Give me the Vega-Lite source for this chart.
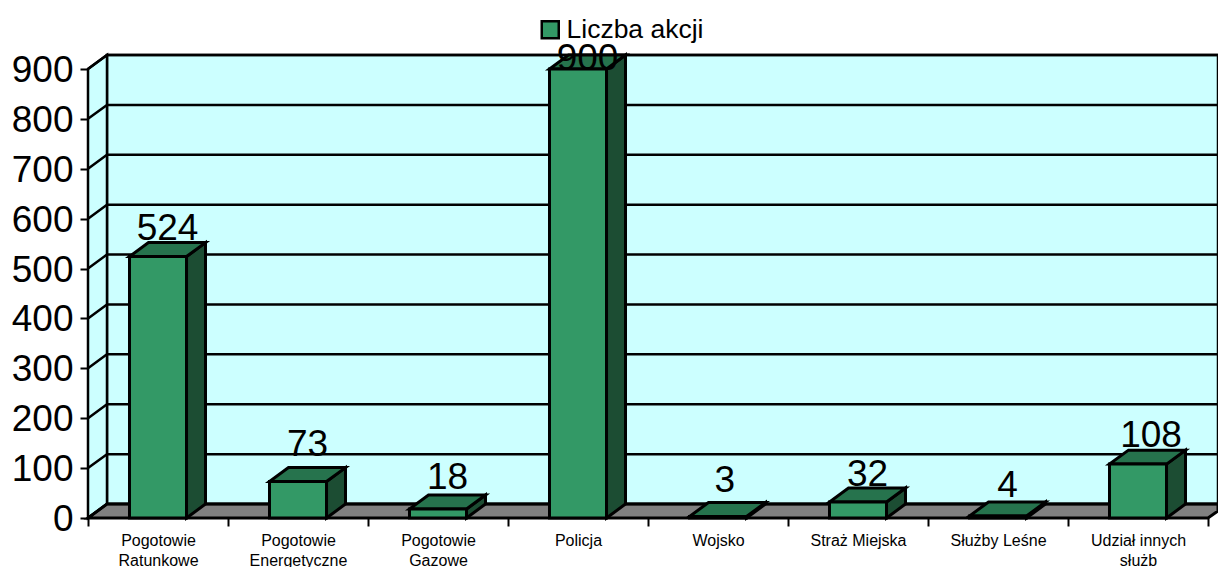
{
"$schema":"https://vega.github.io/schema/vega-lite/v6.json",
"width":1130,"height":463,
"autosize":{"type":"none"},
"padding":{"left":88,"top":55,"right":0,"bottom":49},
"background":"white",
"config":{"view":{"stroke":null},"font":"Liberation Sans"},
"datasets":{
"bary":[
{"nr":1,"kategoria":"Pogotowie Ratunkowe","seria":"Liczba akcji","wartosc":524},
{"nr":2,"kategoria":"Pogotowie Energetyczne","seria":"Liczba akcji","wartosc":73},
{"nr":3,"kategoria":"Pogotowie Gazowe","seria":"Liczba akcji","wartosc":18},
{"nr":4,"kategoria":"Policja","seria":"Liczba akcji","wartosc":900},
{"nr":5,"kategoria":"Wojsko","seria":"Liczba akcji","wartosc":3},
{"nr":6,"kategoria":"Straż Miejska","seria":"Liczba akcji","wartosc":32},
{"nr":7,"kategoria":"Służby Leśne","seria":"Liczba akcji","wartosc":4},
{"nr":8,"kategoria":"Udział innych służb","seria":"Liczba akcji","wartosc":108}
],
"podzialka":[{"v":0},{"v":100},{"v":200},{"v":300},{"v":400},{"v":500},{"v":600},{"v":700},{"v":800},{"v":900}],
"sciana":[{"x":0.1357,"x2":8.0714,"y":28,"y2":928}],
"bok":[{"x":0,"y":0,"y2":0},{"x":0,"y":0,"y2":900},{"x":0.1357,"y":28,"y2":928}],
"podloga":[{"x":0,"y":0,"y2":0},{"x":0.1357,"y":0,"y2":28},{"x":8,"y":0,"y2":28},{"x":8.0714,"y":14,"y2":28}]
},
"encoding":{
"x":{"field":"x","type":"quantitative",
"scale":{"domain":[0,8.0714],"nice":false,"zero":false},
"axis":{"title":null,"grid":false,"domain":false,
"values":[0,0.5,1,1.5,2,2.5,3,3.5,4,4.5,5,5.5,6,6.5,7,7.5,8],
"tickSize":8,"tickWidth":2,"tickColor":"black",
"tickOpacity":{"condition":{"test":"datum.value % 1 == 0","value":1},"value":0},
"labelExpr":"datum.value % 1 == 0 ? '' : split(['Pogotowie|Ratunkowe','Pogotowie|Energetyczne','Pogotowie|Gazowe','Policja','Wojsko','Straż Miejska','Służby Leśne','Udział innych|służb'][floor(datum.value)],'|')",
"labelFontSize":16,"labelColor":"black","labelFont":"Liberation Sans","labelPadding":6,"labelLineHeight":20.5,
"labelOverlap":false,"labelBound":false,"labelFlush":false,"labelAngle":0,"labelBaseline":"top"}},
"y":{"field":"y","type":"quantitative","stack":null,
"scale":{"domain":[0,928],"nice":false,"zero":false},
"axis":{"title":null,"grid":false,"domain":false,
"values":[0,100,200,300,400,500,600,700,800,900],
"tickSize":8,"tickWidth":2,"tickColor":"black",
"labelFontSize":37,"labelColor":"black","labelFont":"Liberation Sans","labelPadding":7,"labelOffset":1.5,
"labelOverlap":false,"labelBound":false,"labelFlush":false}}
},
"layer":[
{"data":{"name":"sciana"},"mark":{"type":"rect","fill":"#CCFFFF","stroke":"black","strokeWidth":2.5,"clip":false},
"encoding":{"x2":{"field":"x2"},"y2":{"field":"y2"}}},
{"data":{"name":"bok"},"mark":{"type":"area","orient":"vertical","fill":"#CCFFFF","stroke":"black","strokeWidth":2.5},
"encoding":{"y2":{"field":"y2"}}},
{"data":{"name":"podloga"},"mark":{"type":"area","orient":"vertical","fill":"#808080","stroke":"black","strokeWidth":3},
"encoding":{"y2":{"field":"y2"}}},
{"data":{"name":"podzialka"},
"transform":[
{"calculate":"[0,0.1357,8.0714]","as":"x"},
{"calculate":"[datum.v,datum.v+28,datum.v+28]","as":"y"},
{"flatten":["x","y"]}],
"mark":{"type":"line","stroke":"black","strokeWidth":2.5},
"encoding":{"detail":{"field":"v","type":"nominal"}}},
{"data":{"name":"bary"},
"transform":[
{"calculate":"[datum.nr-0.5+0.2036,datum.nr-0.5+0.2036+0.1357]","as":"x"},
{"calculate":"[0,28]","as":"y"},
{"calculate":"[datum.wartosc,datum.wartosc+28]","as":"y2"},
{"flatten":["x","y","y2"]}],
"mark":{"type":"area","orient":"vertical","fill":"#1C4D33","stroke":"black","strokeWidth":3},
"encoding":{"detail":{"field":"nr","type":"nominal"},"y2":{"field":"y2"}}},
{"data":{"name":"bary"},
"transform":[
{"calculate":"[datum.nr-0.5-0.2036,datum.nr-0.5-0.2036+0.1357,datum.nr-0.5+0.2036,datum.nr-0.5+0.2036+0.1357]","as":"x"},
{"calculate":"[datum.wartosc,datum.wartosc,datum.wartosc,datum.wartosc+28]","as":"y"},
{"calculate":"[datum.wartosc,datum.wartosc+28,datum.wartosc+28,datum.wartosc+28]","as":"y2"},
{"flatten":["x","y","y2"]}],
"mark":{"type":"area","orient":"vertical","fill":"#26734D","stroke":"black","strokeWidth":3},
"encoding":{"detail":{"field":"nr","type":"nominal"},"y2":{"field":"y2"}}},
{"data":{"name":"bary"},
"transform":[
{"calculate":"datum.nr-0.5-0.2036","as":"x"},
{"calculate":"datum.nr-0.5+0.2036","as":"x2"},
{"calculate":"0","as":"y"},
{"calculate":"datum.wartosc","as":"y2"}],
"mark":{"type":"rect","stroke":"black","strokeWidth":3},
"encoding":{"x2":{"field":"x2"},"y2":{"field":"y2"},
"fill":{"field":"seria","type":"nominal","scale":{"domain":["Liczba akcji"],"range":["#339966"]},
"legend":{"title":null,"orient":"none","legendX":449,"legendY":-38.5,"symbolType":"square","symbolSize":289,"symbolStrokeColor":"black","symbolStrokeWidth":2.5,"labelFontSize":26.5,"labelColor":"black","labelFont":"Liberation Sans","labelOffset":3}}}},
{"data":{"name":"bary"},
"transform":[
{"calculate":"datum.nr-0.5+0.0679+({'5':-0.02,'8':0.025}[''+datum.nr]||0)","as":"x"},
{"calculate":"datum.wartosc+28+2*({'1':3,'2':12,'3':6,'4':-15,'5':11,'6':2,'7':5,'8':3})[''+datum.nr]","as":"y"}],
"mark":{"type":"text","fontSize":37,"font":"Liberation Sans","fill":"black","baseline":"alphabetic","align":"center"},
"encoding":{"text":{"field":"wartosc","type":"quantitative"}}}
]
}
